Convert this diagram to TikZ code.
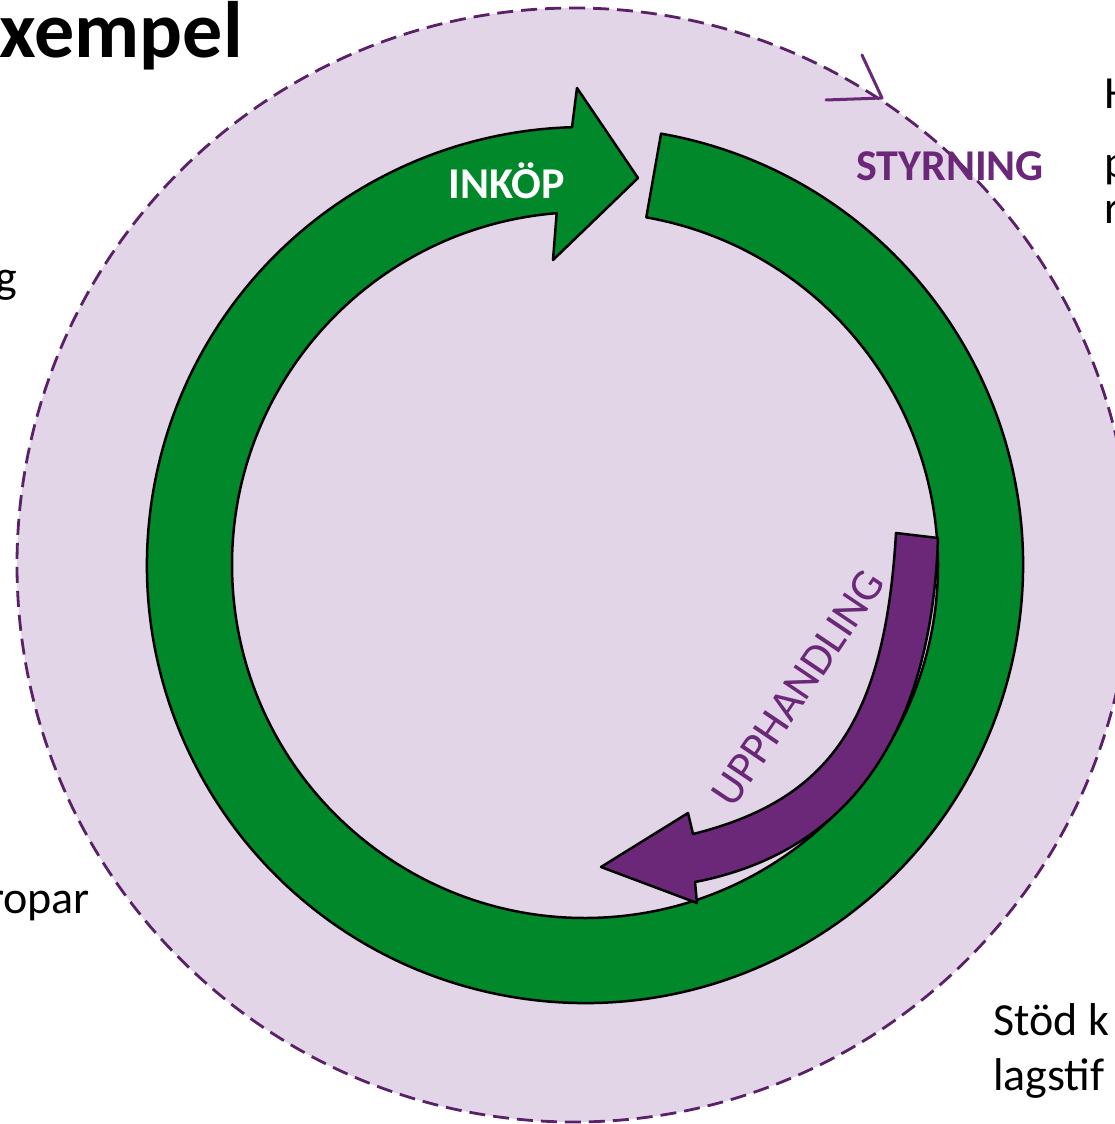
\documentclass[tikz,border=0pt]{standalone}
\usepackage{fontspec}
\setmainfont{Carlito}
\usetikzlibrary{calc}
\definecolor{lila}{RGB}{225,213,231}
\definecolor{lilalinje}{RGB}{90,32,104}
\definecolor{lilamork}{RGB}{107,40,120}
\definecolor{gron}{RGB}{0,136,43}

\begin{document}
\begin{tikzpicture}[x=1pt,y=1pt,
    brodtext/.style={inner sep=0pt, font=\fontsize{46}{55}\selectfont},
    rubrik/.style={inner sep=0pt, font=\bfseries\fontsize{44}{52}\selectfont},
    kontur/.style={draw=black, line width=2.5pt, line join=round}]
    \useasboundingbox (0,0) rectangle (1115,-1124);
    \clip (0,0) rectangle (1115,-1124);

    % yttre streckad cirkel
    \coordinate (D) at (574,-565);
    \filldraw[fill=lila, draw=lilalinje, line width=2.8pt, dash pattern=on 16pt off 8pt] (D) circle[radius=557];
    \coordinate (spets) at (882,-98);
    \draw[lilamork, line width=3pt, line cap=round, line join=round] (862,-55) -- (spets) -- (826,-100);

    % grön ring med pil
    \coordinate (C) at (585,-565);
    \filldraw[fill=gron, kontur] ($(C)+(80:438)$) arc[start angle=80, end angle=-268.3, radius=438]
        -- (577,-88) -- (638,-178) -- (553,-260) -- ($(C)+(-265.4:353)$)
        arc[start angle=-265.4, end angle=80, radius=353] -- cycle;

    % lila pil
    \filldraw[fill=lilamork, kontur] (938,-538) .. controls (932,-720) and (860,-850) .. (695,-882)
        -- (697,-903) -- (601,-867) -- (688,-813) -- (693,-834)
        .. controls (830,-800) and (885,-720) .. (896,-533) -- cycle;

    \node[rubrik, text=white] (inkop) at (507,-181) {INKÖP};
    \node[rubrik, text=lilamork] (styrning) at (950,-166) {STYRNING};
    \node[inner sep=0pt, text=lilamork, font=\fontsize{45}{50}\selectfont, rotate=56] (upphandling) at (798,-688) {UPPHANDLING};

    % text i kanterna
    \node[inner sep=0pt, anchor=base east, font=\bfseries\fontsize{80}{86}\selectfont] (rubriktext) at (243,-58) {Exempel};
    \node[brodtext, anchor=base east] (vanster1) at (17,-292) {g};
    \node[brodtext, anchor=base east] (vanster2) at (90,-913) {ropar};
    \node[brodtext, anchor=base west] (hoger1) at (1104,-108) {H};
    \node[brodtext, anchor=base west] (hoger2) at (1104,-177) {p};
    \node[brodtext, anchor=base west] (hoger3) at (1104,-223) {r};
    \node[brodtext, anchor=base west] (stod) at (993,-1035) {Stöd k};
    \node[brodtext, anchor=base west] (lagstif) at (993,-1090) {lagstif};
\end{tikzpicture}
\end{document}
